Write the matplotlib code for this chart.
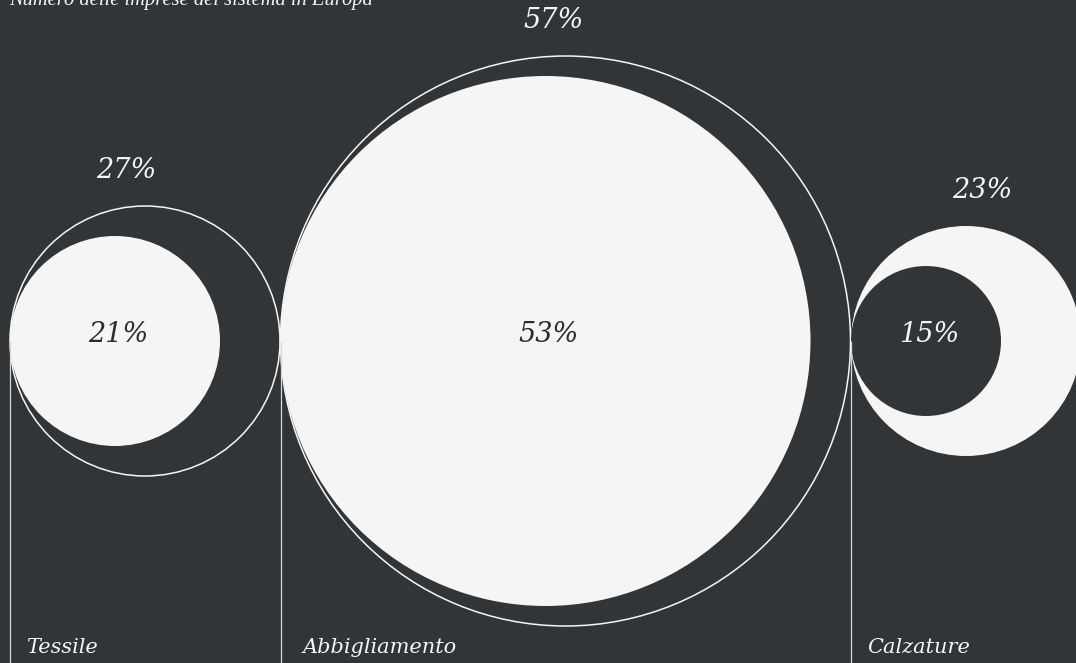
import matplotlib
matplotlib.use("Agg")
import matplotlib.pyplot as plt
from matplotlib.patches import Circle

# Quota delle imprese per comparto: esterno = Europa, interno = Italia
categories = ["Tessile", "Abbigliamento", "Calzature"]
outer_pct = [27, 57, 23]
inner_pct = [21, 53, 15]
# comparto con i colori invertiti (cerchio esterno pieno, interno scuro)
inverted = [False, False, True]
title = "Numero delle imprese del sistema in Europa"

BG = "#323538"
LIGHT = "#f5f5f5"
DARK_TXT = "#2a2c2f"
FONT = "DejaVu Serif"
TITLE_FONT = "Liberation Serif"

W, H = 1076, 663
fig = plt.figure(figsize=(W / 100, H / 100), dpi=100, facecolor=BG)
ax = fig.add_axes([0, 0, 1, 1])
ax.set_facecolor(BG)
ax.set_xlim(0, W)
ax.set_ylim(H, 0)
ax.set_aspect("equal")
ax.axis("off")

scale = 5.0      # raggio in pixel per punto percentuale
cy = 341         # asse orizzontale dei cerchi
x_start = 10
gap = 0.5

# spostamenti orizzontali delle etichette rispetto ai riferimenti
outer_label_dx = [-19, -12, 16]
name_dx = [16, 22, 16]

x = x_start
for name, o, i, inv, ldx, ndx in zip(categories, outer_pct, inner_pct, inverted,
                                     outer_label_dx, name_dx):
    ro = o * scale
    ri = i * scale
    cxo = x + ro
    cxi = x + ri
    if inv:
        ax.add_patch(Circle((cxo, cy), ro, facecolor=LIGHT, edgecolor="none", zorder=2))
        ax.add_patch(Circle((cxi, cy), ri, facecolor=BG, edgecolor="none", zorder=3))
        inner_color = LIGHT
    else:
        ax.add_patch(Circle((cxo, cy), ro, facecolor="none", edgecolor=LIGHT,
                            linewidth=1.1, zorder=2))
        ax.add_patch(Circle((cxi, cy), ri, facecolor=LIGHT, edgecolor="none", zorder=3))
        inner_color = DARK_TXT

    # linea verticale dal punto di tangenza fino al fondo
    ax.plot([x, x], [cy, H], color="#d8d8d8", linewidth=0.9, zorder=4,
            solid_capstyle="butt")

    ax.text(cxo + ldx, cy - ro - 36, f"{o}%", color=LIGHT, fontsize=19.5,
            family=FONT, style="italic", ha="center", va="center", zorder=5)
    ax.text(cxi + 3, cy - 6, f"{i}%", color=inner_color, fontsize=19.5,
            family=FONT, style="italic", ha="center", va="center", zorder=5)
    ax.text(x + ndx, 653, name, color=LIGHT, fontsize=15, family=FONT,
            style="italic", ha="left", va="baseline", zorder=5)

    x += 2 * ro + gap

ax.text(9, 5, title, color=LIGHT, fontsize=14.8, family=TITLE_FONT, style="italic",
        ha="left", va="baseline", zorder=5)

fig.savefig("out.png", dpi=100, facecolor=BG)
